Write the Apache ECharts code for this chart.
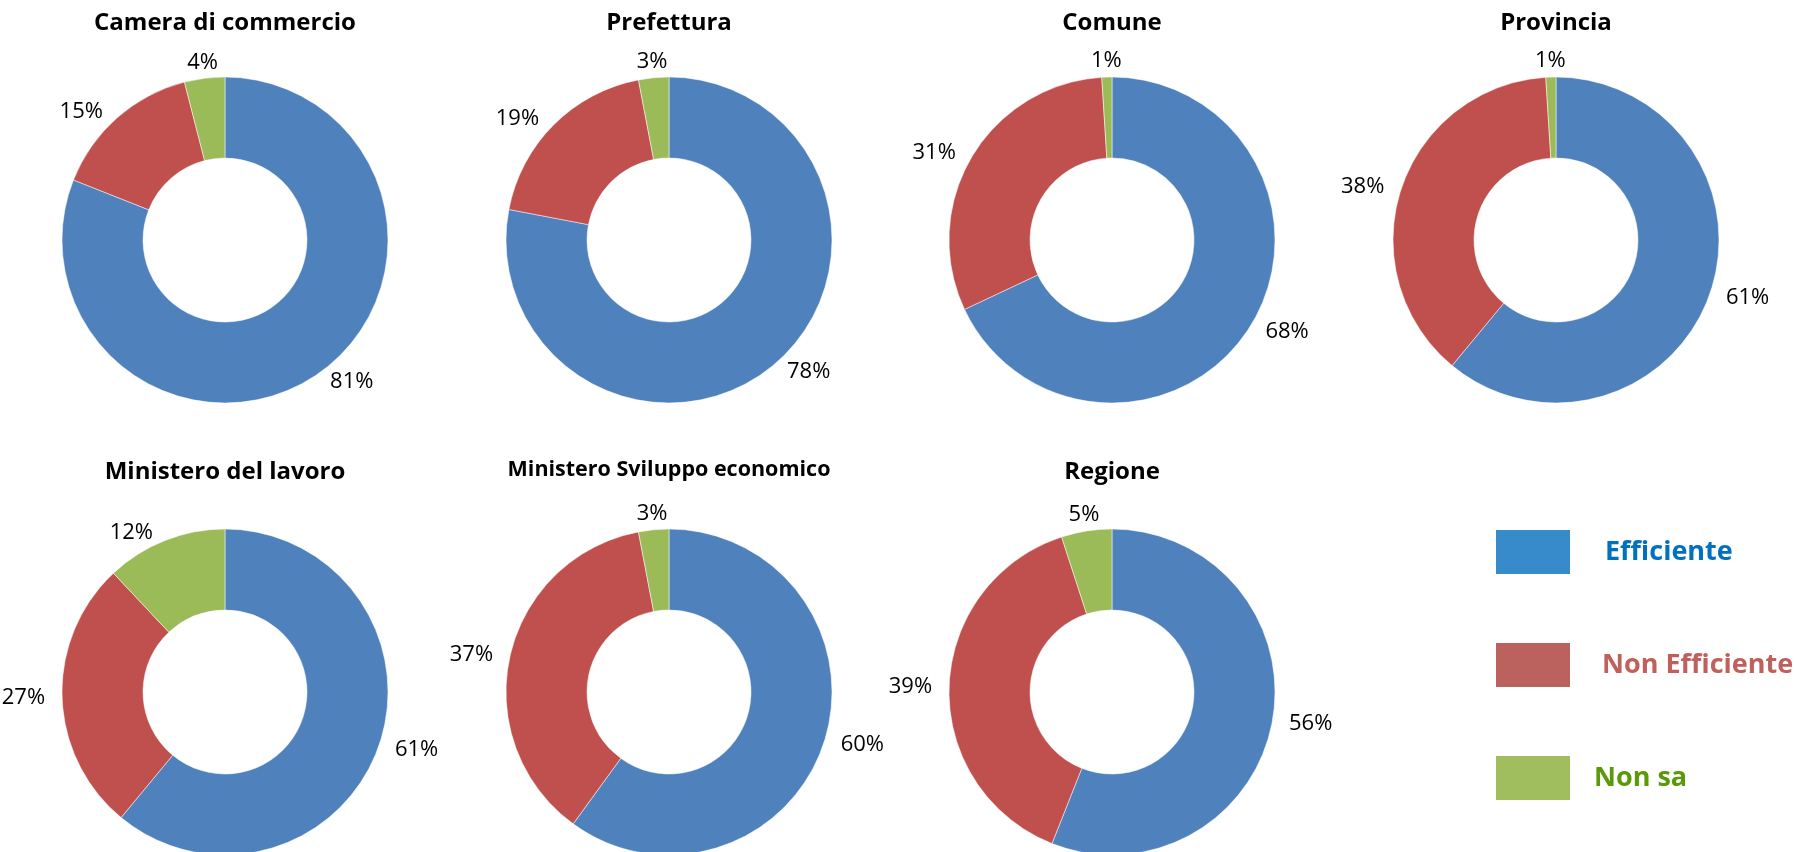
<!DOCTYPE html>
<html>
<head>
<meta charset="utf-8">
<title>Efficienza enti</title>
<script src="https://cdn.jsdelivr.net/npm/echarts@6/dist/echarts.min.js"></script>
<style>
  html, body { margin: 0; padding: 0; background: #fff; }
  #chart { width: 1794px; height: 852px; }
</style>
</head>
<body>
<div id="chart"></div>
<script>
// categorie (legenda)
var categories = ['Efficiente', 'Non Efficiente', 'Non sa'];

// enti
var enti = ['Camera di commercio', 'Prefettura', 'Comune', 'Provincia',
            'Ministero del lavoro', 'Ministero Sviluppo economico', 'Regione'];

// percentuali per ente: [Efficiente, Non Efficiente, Non sa]
var cameraCommercio   = [81, 15, 4];
var prefettura        = [78, 19, 3];
var comune            = [68, 31, 1];
var provincia         = [61, 38, 1];
var ministeroLavoro   = [61, 27, 12];
var ministeroSviluppo = [60, 37, 3];
var regione           = [56, 39, 5];

var valori = [cameraCommercio, prefettura, comune, provincia,
              ministeroLavoro, ministeroSviluppo, regione];

// layout
var centri = [[225, 240], [669, 240], [1112, 240], [1556, 240],
              [225, 692], [669, 692], [1112, 692]];
var coloriFette = ['#4F81BD', '#C0504D', '#9BBB59'];
var coloriLegenda = ['#378BCA', '#BC625E', '#A0BE5E'];
var coloriTestoLegenda = ['#0070C0', '#C0605C', '#5A9A08'];
var paddingLegenda = [29, 26, 18];

var chart = echarts.init(document.getElementById('chart'), null, { renderer: 'canvas' });

var titoli = enti.map(function (nome, i) {
    var piccolo = nome === 'Ministero Sviluppo economico';
    return {
        text: nome,
        left: centri[i][0],
        top: i < 4 ? 8 : (piccolo ? 456 : 457),
        textAlign: 'center',
        padding: 0,
        textStyle: {
            fontFamily: 'Open Sans',
            fontWeight: 'bold',
            fontSize: piccolo ? 21.5 : 24,
            lineHeight: piccolo ? 28 : 30,
            color: '#000'
        }
    };
});

// etichette vicine alla verticale: centrate sopra la fetta
function etichettaLayout(params) {
    var pts = params.labelLinePoints;
    if (!pts) return;
    var dx = pts[1][0] - pts[0][0];
    var dy = pts[1][1] - pts[0][1];
    var len = Math.sqrt(dx * dx + dy * dy) || 1;
    if (Math.abs(dx / len) < 0.3) {
        return {
            x: pts[1][0] + dx / len * 8,
            y: pts[1][1] + dy / len * 8,
            align: 'center',
            verticalAlign: 'middle'
        };
    }
}

var serie = enti.map(function (nome, i) {
    return {
        name: nome,
        type: 'pie',
        center: centri[i],
        radius: [82, 163],
        startAngle: 90,
        clockwise: true,
        avoidLabelOverlap: false,
        silent: true,
        itemStyle: { borderColor: '#fff', borderWidth: 0.5 },
        label: {
            show: true,
            position: 'outside',
            formatter: '{c}%',
            fontFamily: 'Open Sans',
            fontSize: 22,
            color: '#000'
        },
        labelLine: { show: true, length: 8, length2: 4, lineStyle: { opacity: 0 } },
        labelLayout: etichettaLayout,
        data: categories.map(function (c, j) {
            return { name: c, value: valori[i][j], itemStyle: { color: coloriFette[j] } };
        })
    };
});

chart.setOption({
    animation: false,
    backgroundColor: '#fff',
    title: titoli,
    legend: {
        orient: 'vertical',
        left: 1494,
        top: 528,
        padding: 0,
        icon: 'rect',
        itemWidth: 76,
        itemHeight: 46,
        itemGap: 65,
        selectedMode: false,
        textStyle: { fontFamily: 'Open Sans', fontWeight: 'bold', fontSize: 27 },
        data: categories.map(function (c, j) {
            return {
                name: c,
                itemStyle: { color: coloriLegenda[j] },
                textStyle: {
                    color: coloriTestoLegenda[j],
                    padding: [0, 0, 0, paddingLegenda[j]]
                }
            };
        })
    },
    series: serie
});
</script>
</body>
</html>
